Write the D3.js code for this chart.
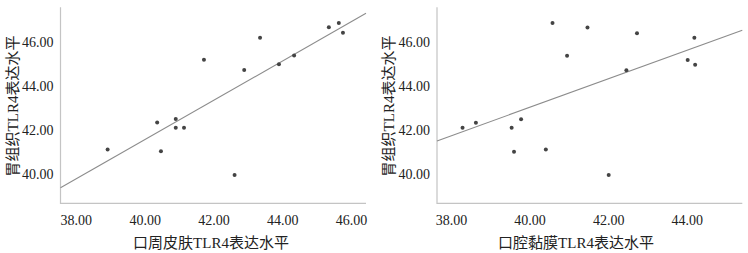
<!DOCTYPE html>
<html lang="zh">
  <head>
    <meta charset="utf-8">
    <title>TLR4 表达水平散点图</title>
    <script src="https://d3js.org/d3.v7.min.js"></script>
    <style>
      body { margin: 0; background: #fff; }
      text { font-family: "Liberation Serif", "Noto Sans CJK SC", serif; fill: #222; }
    </style>
  </head>
  <body>
    <svg id="chart"></svg>
    <script>
    // 胃组织 TLR4 表达水平（两图共用 y）
    const weiLeft  = [41.13, 42.35, 41.04, 42.50, 42.11, 42.11, 45.19, 39.97, 44.72, 46.18, 44.98, 45.38, 46.66, 46.85, 46.41]
    // 口周皮肤 TLR4 表达水平
    const pifu     = [38.91, 40.35, 40.46, 40.89, 40.89, 41.13, 41.71, 42.60, 42.88, 43.34, 43.89, 44.33, 45.34, 45.63, 45.75]

    const weiRight = [42.11, 42.33, 42.11, 41.02, 42.49, 41.13, 46.85, 45.37, 46.65, 39.97, 44.71, 46.39, 45.17, 46.18, 44.96]
    // 口腔黏膜 TLR4 表达水平
    const nianmo   = [38.28, 38.62, 39.53, 39.59, 39.77, 40.40, 40.57, 40.94, 41.46, 42.00, 42.45, 42.72, 44.01, 44.18, 44.20]

    // 拟合线（截距, 斜率）
    const fitLeft  = [6.02, 0.889]
    const fitRight = [17.24, 0.645]

    const xTicksLeft  = [38, 40, 42, 44, 46]
    const xTicksRight = [38, 40, 42, 44]
    const yTicks      = [40, 42, 44, 46]

    const svg = d3.select('#chart')
      .attr('width', 748)
      .attr('height', 253)

    function panel(opts) {
      const x = d3.scaleLinear().domain(opts.xDomain).range([opts.left, opts.right])
      const y = d3.scaleLinear().domain([38.69, 47.56]).range([203.3, 7.3])
      const g = svg.append('g')

      // 坐标轴线
      g.append('path')
        .attr('d', `M${opts.left},7.3V203.3H${opts.right}`)
        .attr('fill', 'none')
        .attr('stroke', '#c4c4c4')
        .attr('stroke-width', 1.2)

      // x 刻度
      g.selectAll('.xt')
        .data(opts.xTicks)
        .join('text')
          .attr('x', d => x(d))
          .attr('y', 225)
          .attr('text-anchor', 'middle')
          .style('font-size', '14px')
          .text(d => d3.format('.2f')(d))

      // y 刻度
      g.selectAll('.yt')
        .data(yTicks)
        .join('text')
          .attr('x', opts.left - 7)
          .attr('y', d => y(d) + 5)
          .attr('text-anchor', 'end')
          .style('font-size', '14px')
          .text(d => d3.format('.2f')(d))

      // 拟合线
      const [a, b] = opts.fit
      const xd = x.domain()
      g.append('line')
        .attr('x1', x(xd[0])).attr('y1', y(a + b * xd[0]))
        .attr('x2', x(xd[1])).attr('y2', y(a + b * xd[1]))
        .attr('stroke', '#8c8c8c')
        .attr('stroke-width', 1.1)

      // 散点
      g.selectAll('circle')
        .data(opts.xs)
        .join('circle')
          .attr('cx', d => x(d))
          .attr('cy', (d, i) => y(opts.ys[i]))
          .attr('r', 2)
          .attr('fill', '#444')

      // 标题
      g.append('text')
        .attr('x', opts.titleX)
        .attr('y', 248)
        .attr('text-anchor', 'middle')
        .style('font-size', '15px')
        .text(opts.xTitle)

      g.append('text')
        .attr('transform', `translate(${opts.left - 43},106) rotate(-90)`)
        .attr('text-anchor', 'middle')
        .style('font-size', '15px')
        .text('胃组织TLR4表达水平')
    }

    panel({
      left: 60.5, right: 366, xDomain: [37.54, 46.42],
      xTicks: xTicksLeft, xs: pifu, ys: weiLeft, fit: fitLeft,
      xTitle: '口周皮肤TLR4表达水平', titleX: 211
    })

    panel({
      left: 437, right: 742.3, xDomain: [37.63, 45.40],
      xTicks: xTicksRight, xs: nianmo, ys: weiRight, fit: fitRight,
      xTitle: '口腔黏膜TLR4表达水平', titleX: 576
    })
    </script>
  </body>
</html>
